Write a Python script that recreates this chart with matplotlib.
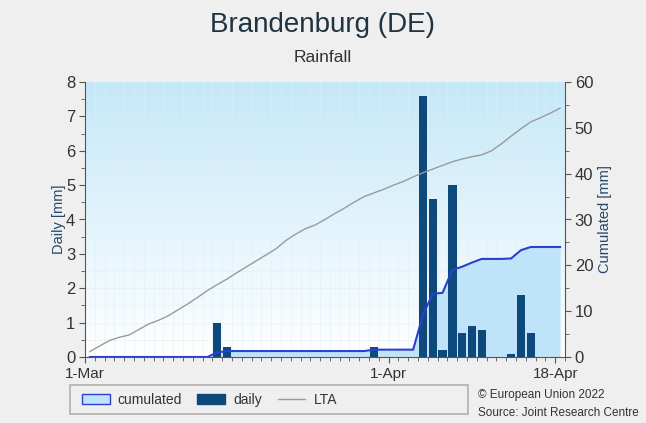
import numpy as np
import matplotlib
matplotlib.use("Agg")
import matplotlib.pyplot as plt
from matplotlib.patches import Patch, Rectangle
from matplotlib.lines import Line2D
from matplotlib.ticker import MultipleLocator, FixedLocator

plt.rcParams['font.family'] = ['Liberation Sans', 'DejaVu Sans']

# ---- data ----
n_days = 49  # 1-Mar .. 18-Apr
day_index = np.arange(n_days)
rain_days = [13, 14, 29, 34, 35, 36, 37, 38, 39, 40, 43, 44, 45]
rain_vals = [1.0, 0.3, 0.3, 7.6, 4.6, 0.2, 5.0, 0.7, 0.9, 0.8, 0.1, 1.8, 0.7]
lta = [1.2, 2.4, 3.6, 4.3, 4.8, 6.0, 7.2, 8.0, 9.0, 10.3, 11.6, 13.0, 14.5, 15.8,
       17.0, 18.4, 19.7, 21.0, 22.3, 23.6, 25.4, 26.8, 28.0, 28.8, 30.0, 31.3,
       32.5, 33.8, 35.0, 35.8, 36.6, 37.5, 38.3, 39.3, 40.2, 41.0, 41.8, 42.6,
       43.2, 43.7, 44.1, 45.0, 46.5, 48.2, 49.8, 51.3, 52.2, 53.2, 54.3]
tick_pos = [0, 31, 48]
tick_labels = ['1-Mar', '1-Apr', '18-Apr']

daily = np.zeros(n_days)
daily[rain_days] = rain_vals
cumulated = np.cumsum(daily)
centers = day_index + 0.5

# ---- colours ----
bg = '#efefef'
bar_c = '#0d4a7b'
cum_line_c = '#2b3fd2'
fill_c = '#bfe4f9'
lta_c = '#9a9a9a'
txt_c = '#1f3443'
lab_c = '#23476b'

fig = plt.figure(figsize=(6.46, 4.23), dpi=100, facecolor=bg)
pos = [85/646, 1-357/423, 480/646, 275/423]

# bottom axes: cumulated scale, gradient + fill
ax_c = fig.add_axes(pos)
ax_c.set_xlim(0, n_days)
ax_c.set_ylim(0, 60)
grad = np.linspace(1, 0, 256).reshape(-1, 1)
top = np.array([0.77, 0.91, 0.975])
bot = np.array([1.0, 1.0, 1.0])
img = bot + (top - bot) * grad[..., None]
img = img.reshape(256, 1, 3)
ax_c.imshow(img, extent=[0, 1, 0, 1], transform=ax_c.transAxes, aspect='auto', zorder=0)
for x in range(1, n_days):
    ax_c.axvline(x, color='#dfeef7', lw=0.5, alpha=0.7, zorder=0.5)
for y in np.arange(3.75, 60, 3.75):
    ax_c.axhline(y, color='#dfeef7', lw=0.5, alpha=0.7, zorder=0.5)
ax_c.fill_between(centers, 0, cumulated, color=fill_c, lw=0, zorder=1)
ax_c.yaxis.tick_right()
ax_c.yaxis.set_label_position('right')
ax_c.yaxis.set_major_locator(MultipleLocator(10))
ax_c.yaxis.set_minor_locator(MultipleLocator(5))
ax_c.set_ylabel('Cumulated [mm]', fontsize=10.5, color=lab_c, labelpad=3)

# middle axes: daily bars
ax_d = fig.add_axes(pos, sharex=ax_c)
ax_d.patch.set_visible(False)
ax_d.set_ylim(0, 8)
ax_d.bar(centers, daily, width=0.86, color=bar_c, zorder=2)
ax_d.yaxis.set_major_locator(MultipleLocator(1))
ax_d.yaxis.set_minor_locator(MultipleLocator(0.5))
ax_d.set_ylabel('Daily [mm]', fontsize=10.5, color=lab_c, labelpad=0)

# top axes: lines on cumulated scale
ax_l = fig.add_axes(pos, sharex=ax_c)
ax_l.patch.set_visible(False)
ax_l.set_ylim(0, 60)
ax_l.plot(centers, cumulated, color=cum_line_c, lw=1.5, zorder=3)
ax_l.plot(centers, lta, color=lta_c, lw=1.0, zorder=3)
ax_l.axis('off')

for a in (ax_c, ax_d):
    for s in a.spines.values():
        s.set_visible(False)
ax_c.spines['right'].set_visible(True)
ax_c.spines['right'].set_color('#555555')
ax_c.spines['bottom'].set_visible(True)
ax_c.spines['bottom'].set_color('#555555')
ax_d.spines['left'].set_visible(True)
ax_d.spines['left'].set_color('#555555')

ax_c.tick_params(axis='y', which='major', labelsize=12, colors='#555555', labelcolor='#333333', length=4, direction='out', pad=3)
ax_c.tick_params(axis='y', which='minor', colors='#555555', length=3, direction='out')
ax_d.tick_params(axis='y', which='major', labelsize=12, colors='#555555', labelcolor='#333333', length=4, direction='out', pad=3)
ax_d.tick_params(axis='y', which='minor', colors='#555555', length=3, direction='out')

ax_c.xaxis.set_major_locator(FixedLocator(tick_pos))
ax_c.set_xticklabels(tick_labels)
ax_c.xaxis.set_minor_locator(MultipleLocator(1))
ax_c.tick_params(axis='x', which='major', labelsize=11, colors='#555555', labelcolor='#333333', length=4, pad=3)
ax_c.tick_params(axis='x', which='minor', colors='#555555', length=3)
ax_d.tick_params(axis='x', which='both', bottom=False, labelbottom=False)

fig.text(0.5, 1-25/423, 'Brandenburg (DE)', ha='center', va='center', fontsize=20, color=txt_c)
fig.text(0.5, 1-57/423, 'Rainfall', ha='center', va='center', fontsize=12.5, color='#333333')

# legend box
fig.patches.append(Rectangle((70/646, 1-414/423), 398/646, 29/423, transform=fig.transFigure,
                             facecolor=bg, edgecolor='#b0b0b0', lw=1.2))
handles = [Patch(facecolor=fill_c, edgecolor=cum_line_c, lw=1.0),
           Patch(facecolor=bar_c, edgecolor=bar_c),
           Line2D([0], [0], color=lta_c, lw=1.0)]
fig.legend(handles, ['cumulated', 'daily', 'LTA'], loc='center left',
           bbox_to_anchor=(72/646, 1-399.5/423), ncol=3, frameon=False,
           fontsize=10, handlelength=2.0, handleheight=0.7, handletextpad=0.6,
           columnspacing=1.1, labelcolor='#333333', borderpad=0.2)

fig.text(478/646, 1-395/423, '\u00a9 European Union 2022', ha='left', va='center', fontsize=8.5, color='#333333')
fig.text(478/646, 1-413/423, 'Source: Joint Research Centre', ha='left', va='center', fontsize=8.5, color='#333333')

fig.savefig('out.png', dpi=100, facecolor=bg)
